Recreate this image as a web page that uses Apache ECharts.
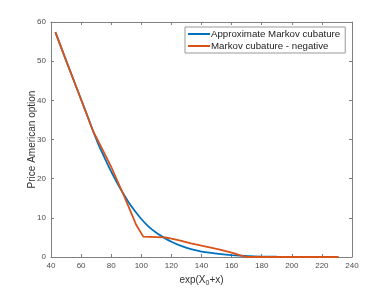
<!DOCTYPE html>
<html><head><meta charset="utf-8">
<script src="https://cdn.jsdelivr.net/npm/echarts@6/dist/echarts.min.js"></script>
<style>html,body{margin:0;padding:0;background:#fff}#c{width:389px;height:292px}</style>
</head><body><div id="c"></div>
<script>
const seriesNames = ['Approximate Markov cubature', 'Markov cubature - negative'];
const xTicks = [40, 60, 80, 100, 120, 140, 160, 180, 200, 220, 240];
const yTicks = [0, 10, 20, 30, 40, 50, 60];
const approxX = [42.9, 50, 55, 60, 65, 68, 72, 76, 80, 84, 88, 92, 96, 100, 105, 110, 115, 120, 126, 133, 140, 153, 160, 170, 180, 190, 200, 215, 231];
const approxY = [57.4, 50.2, 45.2, 40.2, 35.2, 32.1, 28.3, 25.0, 21.8, 18.9, 16.2, 13.7, 11.6, 9.7, 7.7, 6.2, 4.95, 3.9, 2.9, 2.0, 1.4, 0.75, 0.5, 0.25, 0.12, 0.06, 0.03, 0.01, 0];
const negX = [42.9, 50, 60, 68, 74, 80, 88.4, 92.8, 96.5, 101.3, 110, 116, 120, 126, 133, 140, 153, 160, 166, 170, 172, 231];
const negY = [57.4, 50.2, 40.2, 32.1, 27.6, 23.0, 15.7, 11.7, 8.3, 5.2, 5.1, 5.0, 4.7, 4.2, 3.5, 2.9, 1.8, 1.1, 0.4, 0.05, 0, 0];

const zip = (a, b) => a.map((v, i) => [v, b[i]]);
const axisGrey = '#808080';
const txt = '#4d4d4d';
const chart = echarts.init(document.getElementById('c'));
const baseX = {
  type: 'value', min: xTicks[0], max: xTicks[xTicks.length - 1], interval: 20,
  axisLine: {show: true, onZero: false, lineStyle: {color: axisGrey, width: 1}},
  axisTick: {show: true, inside: true, length: 3, lineStyle: {color: axisGrey}},
  splitLine: {show: false}
};
const baseY = {
  type: 'value', min: yTicks[0], max: yTicks[yTicks.length - 1], interval: 10,
  axisLine: {show: true, onZero: false, lineStyle: {color: axisGrey, width: 1}},
  axisTick: {show: true, inside: true, length: 3, lineStyle: {color: axisGrey}},
  splitLine: {show: false}
};
chart.setOption({
  animation: false,
  textStyle: {fontFamily: 'Liberation Sans, Arial, sans-serif'},
  grid: {left: 51, right: 37, top: 22, bottom: 32},
  legend: {
    left: 185, top: 27, orient: 'vertical', itemWidth: 22, itemHeight: 2, itemGap: 2,
    icon: 'rect', backgroundColor: '#fff', borderColor: '#999', borderWidth: 1,
    padding: [2, 5, 2, 3],
    textStyle: {fontSize: 9.7, color: '#222', padding: [0, 0, 0, -4]},
    data: seriesNames
  },
  xAxis: [
    Object.assign({}, baseX, {
      position: 'bottom',
      axisLabel: {show: true, fontSize: 8, color: txt, margin: 5},
      name: '{a|exp(X}{s|0}{a|+x)}', nameLocation: 'middle', nameGap: 17,
      nameTextStyle: {rich: {a: {fontSize: 10, color: '#333'}, s: {fontSize: 7, color: '#333', padding: [6, 0, 0, 0]}}}
    }),
    Object.assign({}, baseX, {position: 'top', axisLabel: {show: false}})
  ],
  yAxis: [
    Object.assign({}, baseY, {
      position: 'left',
      axisLabel: {show: true, fontSize: 8, color: txt, margin: 5},
      name: 'Price American option', nameLocation: 'middle', nameGap: 14, nameMoveOverlap: false,
      nameTextStyle: {fontSize: 10, color: '#333'}
    }),
    Object.assign({}, baseY, {position: 'right', axisLabel: {show: false}})
  ],
  series: [
    {name: seriesNames[0], type: 'line', data: zip(approxX, approxY), smooth: 0.2, showSymbol: false,
     lineStyle: {color: '#0072BD', width: 1.8}, itemStyle: {color: '#0072BD'}, z: 2},
    {name: seriesNames[1], type: 'line', data: zip(negX, negY), smooth: false, showSymbol: false,
     lineStyle: {color: '#D95319', width: 1.8}, itemStyle: {color: '#D95319'}, z: 3}
  ]
});
</script></body></html>
